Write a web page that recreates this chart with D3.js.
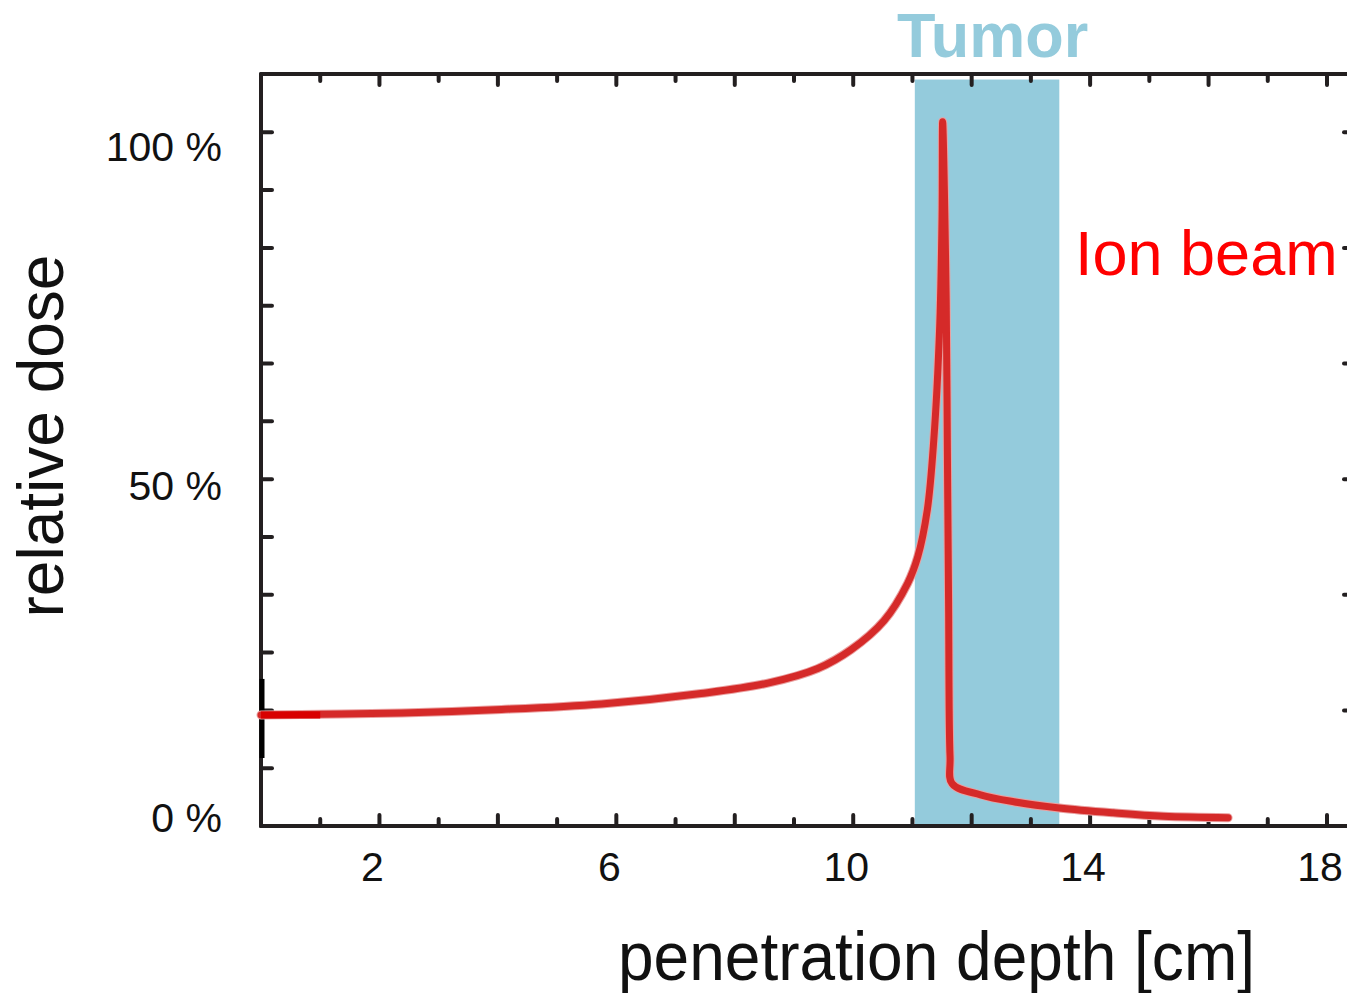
<!DOCTYPE html>
<html>
<head>
<meta charset="utf-8">
<script src="https://cdn.jsdelivr.net/npm/d3@7"></script>
<style>
  html, body { margin: 0; padding: 0; background: #fff; }
  svg { display: block; }
  text { font-family: "Liberation Sans", Arial, sans-serif; }
</style>
</head>
<body>
<svg id="chart" width="1347" height="993"></svg>
<script>
// Bragg curve of an ion beam
const depthCm = [0, 2.38, 4.06, 5.75, 7.43, 8.56, 9.40, 9.96, 10.52, 10.92, 11.09, 11.25, 11.36, 11.46, 11.50, 11.51,
                 11.57, 11.59, 11.61, 11.635, 11.67, 12.15, 12.71, 13.48, 14.39, 15.24, 16.33];
const dosePct = [16.0, 16.3, 16.8, 17.6, 19.1, 20.6, 22.7, 25.4, 29.6, 35.0, 38.8, 45.5, 55.6, 72.0, 88.0, 101.5,
                 75.8, 54.2, 32.6, 10.0, 6.1, 4.5, 3.5, 2.6, 1.9, 1.4, 1.2];

// tumor region (cm) and its top (% of dose)
const tumorRange = [11.04, 13.48];
const tumorTop = 107.6;

// axis ticks
const xMajorTicks = [0, 2, 4, 6, 8, 10, 12, 14, 16, 18];
const xMinorTicks = [1, 3, 5, 7, 9, 11, 13, 15, 17];
const xLabelTicks = [2, 6, 10, 14, 18];
const yTicks = d3.range(0, 13).map(i => i * 100 / 12);
const yMajorTicks = d3.range(0, 7).map(i => i * 200 / 12);
const yLabelTicks = [100, 50, 0];
const yLabelText = ["100 %", "50 %", "0 %"];
const yLabelNudge = [14, 7, -8];

const svg = d3.select("#chart");

const x = d3.scaleLinear().domain([0, 18]).range([261, 1327]);
const y = d3.scaleLinear().domain([0, 108.4]).range([826, 74]);
const rightX = 1351;
const axisColor = "#231f20";

// tumor band
svg.append("rect")
    .attr("x", x(tumorRange[0]))
    .attr("y", y(tumorTop))
    .attr("width", x(tumorRange[1]) - x(tumorRange[0]))
    .attr("height", y(0) - y(tumorTop))
    .attr("fill", "#94cbdc");

//Tick marks, drawn as inward stubs
function stubs(sel, data, x1, y1, x2, y2) {
    sel.selectAll(null).data(data).join("line")
        .attr("x1", x1).attr("y1", y1).attr("x2", x2).attr("y2", y2)
        .attr("stroke", axisColor)
        .attr("stroke-width", 4)
        .attr("stroke-linecap", "round");
}

const ticks = svg.append("g");
// bottom and top
stubs(ticks, xMajorTicks, d => x(d), y(0), d => x(d), y(0) - 11);
stubs(ticks, xMinorTicks, d => x(d), y(0), d => x(d), y(0) - 7);
stubs(ticks, xMajorTicks, d => x(d), y.range()[1], d => x(d), y.range()[1] + 11);
stubs(ticks, xMinorTicks, d => x(d), y.range()[1], d => x(d), y.range()[1] + 7);
// left and right
stubs(ticks, yTicks, x(0), d => y(d), x(0) + 11, d => y(d));
stubs(ticks, yMajorTicks, rightX, d => y(d), rightX - 7, d => y(d));

// frame
svg.append("path")
    .attr("d", `M${1347 + 5},${y.range()[1]} H${x(0)} V${y(0)} H${1347 + 5}`)
    .attr("fill", "none")
    .attr("stroke", axisColor)
    .attr("stroke-width", 4)
    .attr("stroke-linejoin", "round");
svg.append("line")
    .attr("x1", rightX).attr("x2", rightX)
    .attr("y1", y.range()[1]).attr("y2", y(0))
    .attr("stroke", axisColor).attr("stroke-width", 4);

// dark mark on the left axis at the entrance dose
svg.append("line")
    .attr("x1", x(0) + 1).attr("x2", x(0) + 1)
    .attr("y1", y(21.2)).attr("y2", y(9.8))
    .attr("stroke", "#000").attr("stroke-width", 5);

// tick labels
svg.append("g").selectAll("text").data(xLabelTicks).join("text")
    .attr("x", d => x(d) - 7)
    .attr("y", 881)
    .attr("text-anchor", "middle")
    .attr("font-size", 41)
    .attr("fill", "#111")
    .text(d => d);

svg.append("g").selectAll("text").data(yLabelTicks).join("text")
    .attr("x", 222)
    .attr("y", (d, i) => y(d) + yLabelNudge[i])
    .attr("dy", "0.35em")
    .attr("text-anchor", "end")
    .attr("font-size", 41)
    .attr("fill", "#111")
    .text((d, i) => yLabelText[i]);

// dose curve
const line = d3.line()
    .x((d, i) => x(depthCm[i]))
    .y(d => y(d))
    .curve(d3.curveCatmullRom.alpha(0.5));

svg.append("path")
    .datum(dosePct)
    .attr("d", line)
    .attr("fill", "none")
    .attr("stroke", "#eaa0a0")
    .attr("stroke-width", 9)
    .attr("stroke-linejoin", "round")
    .attr("stroke-linecap", "round");
svg.append("path")
    .datum(dosePct)
    .attr("d", line)
    .attr("fill", "none")
    .attr("stroke", "#d52a29")
    .attr("stroke-width", 7)
    .attr("stroke-linejoin", "round")
    .attr("stroke-linecap", "round");

// brighter red start of the curve
svg.append("line")
    .attr("x1", x(0)).attr("x2", x(1))
    .attr("y1", y(dosePct[0])).attr("y2", y(dosePct[0]))
    .attr("stroke", "#d80000").attr("stroke-width", 7);

// annotations
svg.append("text")
    .attr("x", 897).attr("y", 57)
    .attr("font-size", 63)
    .attr("font-weight", "bold")
    .attr("fill", "#94cbdc")
    .text("Tumor");

svg.append("text")
    .attr("x", 1075).attr("y", 275)
    .attr("font-size", 63)
    .attr("fill", "#ff0000")
    .text("Ion beam");

svg.append("text")
    .attr("transform", "translate(63,436) rotate(-90)")
    .attr("text-anchor", "middle")
    .attr("font-size", 64)
    .attr("fill", "#111")
    .text("relative dose");

svg.append("text")
    .attr("x", 618).attr("y", 980)
    .attr("font-family", "'Liberation Sans Narrow', 'Liberation Sans', Arial, sans-serif")
    .attr("font-size", 68)
    .attr("textLength", 637)
    .attr("lengthAdjust", "spacingAndGlyphs")
    .attr("fill", "#111")
    .text("penetration depth [cm]");
</script>
</body>
</html>
